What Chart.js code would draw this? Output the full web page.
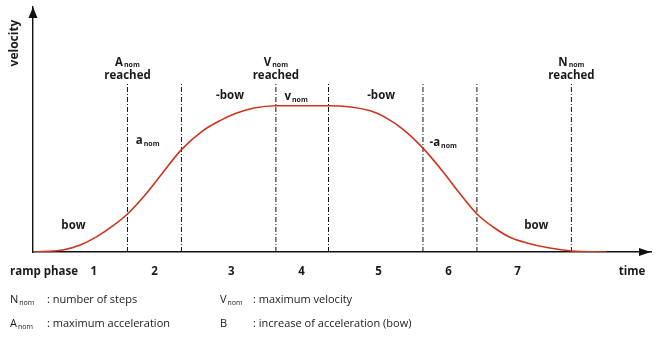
<!DOCTYPE html>
<html>
<head>
<meta charset="utf-8">
<script src="https://cdn.jsdelivr.net/npm/chart.js@4"></script>
<style>
  html, body { margin: 0; padding: 0; background: #fff; }
  #wrap { width: 668px; height: 341px; position: relative; }
</style>
</head>
<body>
<div id="wrap"><canvas id="rampChart"></canvas></div>
<script>
// velocity ramp (time in arbitrary units, velocity in % of V_nom)
const timeValues = [0, 2.2, 3.5, 4.7, 5.9, 7, 8.4, 9.6, 11, 12.6, 13.9, 15.1, 16.3, 18,
                    21.9, 25, 26.2, 27.4, 28.9, 30.4, 31.6, 32.9, 34.1, 35.3, 36.6, 38.3, 39.9, 42.5];
const velocityValues = [0, 1.4, 4.8, 10.3, 17.8, 26, 40, 54, 70, 83, 90, 95, 98.3, 100,
                        100, 96.5, 91.5, 84, 71, 54.7, 40.3, 26, 17.1, 10.3, 6.2, 2.7, 0.7, 0];

// phase boundaries and ramp phase numbers
const phaseBoundaries = [7, 11, 18, 21.9, 28.9, 32.9, 39.9];
const boundaryTop = 116;
const phaseNumbers = ['1', '2', '3', '4', '5', '6', '7'];
const phaseNumberTimes = [4.5, 9, 14.7, 19.9, 25.6, 30.8, 35.9];

// "... reached" markers
const milestoneNames = ['A', 'V', 'N'];
const milestoneTimes = [7, 18, 39.9];

// labels along the curve
const curveTexts = ['bow', 'a', '-bow', 'v', '-bow', '-a', 'bow'];
const curveSubs = ['', 'nom', '', 'nom', '', 'nom', ''];
const curveTimes = [3.0, 8.5, 14.6, 19.5, 25.8, 30.4, 37.3];
const curveLevels = [17.8, 75.9, 106.6, 106, 106.6, 74.5, 17.8];

// legend under the chart
const legendSymbols = ['N', 'A', 'V', 'B'];
const legendSubs = ['nom', 'nom', 'nom', ''];
const legendTexts = ['number of steps', 'maximum acceleration', 'maximum velocity', 'increase of acceleration (bow)'];

const FONT = "'Open Sans', sans-serif";
const TEXT = '#1a1a1a';

function drawRich(ctx, x, y, main, sub, size, weight, align) {
    const mainFont = weight + ' ' + size + 'px ' + FONT;
    const subFont = weight + ' ' + Math.round(size * 0.65) + 'px ' + FONT;
    ctx.font = mainFont;
    const w1 = ctx.measureText(main).width;
    ctx.font = subFont;
    const w2 = sub ? ctx.measureText(sub).width + 1 : 0;
    let left = x;
    if (align === 'center') left = x - (w1 + w2) / 2;
    ctx.textAlign = 'left';
    ctx.textBaseline = 'middle';
    ctx.fillStyle = TEXT;
    ctx.font = mainFont;
    ctx.fillText(main, left, y);
    if (sub) {
        ctx.font = subFont;
        ctx.fillText(sub, left + w1 + 1, y + 3);
    }
    return left + w1 + w2;
}

const decorations = {
    id: 'decorations',
    afterDraw(chart) {
        const ctx = chart.ctx;
        const xs = chart.scales.x;
        const ys = chart.scales.y;
        const area = chart.chartArea;
        ctx.save();

        // arrow heads on the axes
        ctx.fillStyle = '#111';
        ctx.beginPath();
        ctx.moveTo(area.left, area.top);
        ctx.lineTo(area.left - 4.5, area.top + 11);
        ctx.lineTo(area.left + 4.5, area.top + 11);
        ctx.closePath();
        ctx.fill();
        ctx.beginPath();
        ctx.moveTo(area.right, area.bottom);
        ctx.lineTo(area.right - 12, area.bottom - 4);
        ctx.lineTo(area.right - 12, area.bottom + 4);
        ctx.closePath();
        ctx.fill();

        // axis names
        ctx.save();
        ctx.translate(15, 43);
        ctx.rotate(-Math.PI / 2);
        drawRich(ctx, 0, 0, 'velocity', '', 12, 700, 'center');
        ctx.restore();
        drawRich(ctx, 10, 272, 'ramp phase', '', 11.5, 700, 'left');
        drawRich(ctx, xs.getPixelForValue(44.4), 272, 'time', '', 11.5, 700, 'center');

        // phase numbers
        phaseNumbers.forEach((n, i) => {
            drawRich(ctx, xs.getPixelForValue(phaseNumberTimes[i]), 272, n, '', 11.5, 700, 'center');
        });

        // reached markers
        const topY = ys.getPixelForValue(boundaryTop);
        milestoneNames.forEach((name, i) => {
            const px = xs.getPixelForValue(milestoneTimes[i]);
            drawRich(ctx, px, topY - 20, name, 'nom', 11.5, 700, 'center');
            drawRich(ctx, px, topY - 7, 'reached', '', 11.5, 700, 'center');
        });

        // curve labels
        curveTexts.forEach((t, i) => {
            drawRich(ctx, xs.getPixelForValue(curveTimes[i]), ys.getPixelForValue(curveLevels[i]),
                t, curveSubs[i], 11.5, 700, 'center');
        });

        // legend
        const cols = [10, 220];
        const colons = [47, 253];
        legendSymbols.forEach((s, i) => {
            const col = i < 2 ? 0 : 1;
            const rowY = i % 2 === 0 ? 300 : 324;
            drawRich(ctx, cols[col], rowY, s, legendSubs[i], 11, 400, 'left');
            drawRich(ctx, colons[col], rowY, ': ' + legendTexts[i], '', 11, 400, 'left');
        });

        ctx.restore();
    }
};

const boundaryDatasets = phaseBoundaries.map(b => ({
    data: [{ x: b, y: 0 }, { x: b, y: boundaryTop }],
    borderColor: '#111',
    borderWidth: 1,
    borderDash: [5, 2, 1, 2],
    pointRadius: 0,
    order: 2
}));

new Chart(document.getElementById('rampChart'), {
    type: 'line',
    data: {
        datasets: [{
            data: timeValues.map((t, i) => ({ x: t, y: velocityValues[i] })),
            borderColor: '#cc341d',
            borderWidth: 1.6,
            pointRadius: 0,
            cubicInterpolationMode: 'monotone',
            order: 1
        }].concat(boundaryDatasets)
    },
    options: {
        responsive: true,
        maintainAspectRatio: false,
        animation: false,
        layout: { padding: { left: 33, right: 17, top: 7, bottom: 89 } },
        plugins: {
            legend: { display: false },
            tooltip: { enabled: false }
        },
        scales: {
            x: {
                type: 'linear',
                min: 0,
                max: 45.8,
                grid: { display: false, drawTicks: false },
                ticks: { display: false },
                border: { display: true, color: '#111', width: 1.4 }
            },
            y: {
                type: 'linear',
                min: 0,
                max: 167.5,
                grid: { display: false, drawTicks: false },
                ticks: { display: false },
                border: { display: true, color: '#111', width: 1.4 }
            }
        }
    },
    plugins: [decorations]
});
</script>
</body>
</html>
